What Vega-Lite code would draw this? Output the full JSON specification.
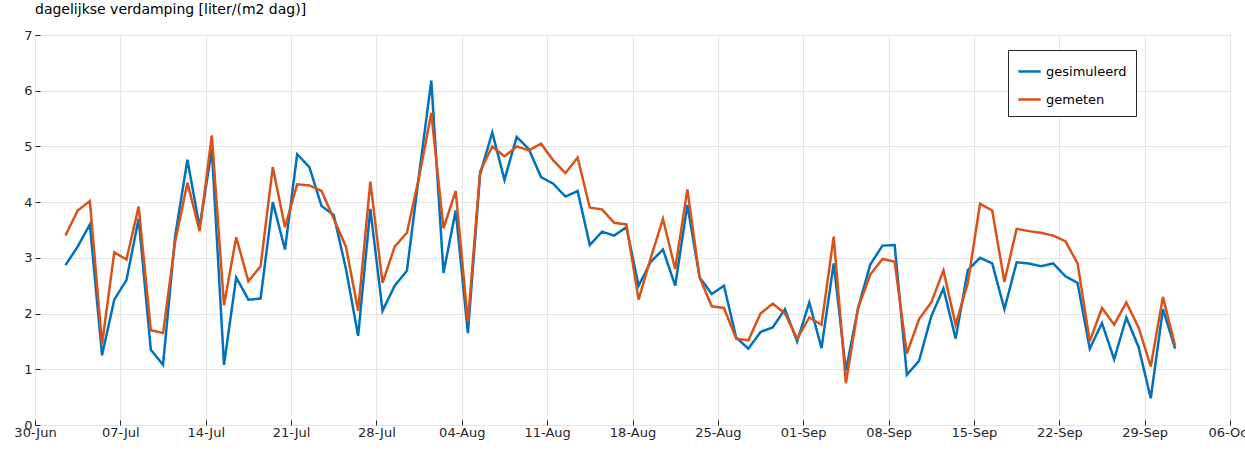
{
"$schema":"https://vega.github.io/schema/vega-lite/v6.json",
"width":1195,"height":390,"autosize":"none",
"padding":{"left":35,"top":35,"right":15,"bottom":28},
"background":"white",
"config":{"font":"DejaVu Sans","view":{"stroke":"#262626","strokeWidth":1}},
"title":{"text":"dagelijkse verdamping [liter/(m2 dag)]","anchor":"start","frame":"group","fontSize":14,"fontWeight":"normal","color":"#000","offset":12},
"data":{"values":[
{"i":0,"sim":2.87,"obs":3.4},{"i":1,"sim":3.2,"obs":3.85},{"i":2,"sim":3.6,"obs":4.02},{"i":3,"sim":1.25,"obs":1.45},{"i":4,"sim":2.25,"obs":3.1},{"i":5,"sim":2.6,"obs":2.97},{"i":6,"sim":3.7,"obs":3.92},{"i":7,"sim":1.35,"obs":1.7},{"i":8,"sim":1.08,"obs":1.65},{"i":9,"sim":3.4,"obs":3.3},
{"i":10,"sim":4.76,"obs":4.35},{"i":11,"sim":3.55,"obs":3.48},{"i":12,"sim":4.95,"obs":5.2},{"i":13,"sim":1.08,"obs":2.15},{"i":14,"sim":2.65,"obs":3.37},{"i":15,"sim":2.25,"obs":2.58},{"i":16,"sim":2.27,"obs":2.85},{"i":17,"sim":4.0,"obs":4.63},{"i":18,"sim":3.15,"obs":3.55},{"i":19,"sim":4.86,"obs":4.32},
{"i":20,"sim":4.63,"obs":4.3},{"i":21,"sim":3.93,"obs":4.2},{"i":22,"sim":3.77,"obs":3.7},{"i":23,"sim":2.8,"obs":3.2},{"i":24,"sim":1.6,"obs":2.05},{"i":25,"sim":3.88,"obs":4.37},{"i":26,"sim":2.05,"obs":2.55},{"i":27,"sim":2.5,"obs":3.2},{"i":28,"sim":2.77,"obs":3.45},{"i":29,"sim":4.5,"obs":4.45},
{"i":30,"sim":6.18,"obs":5.6},{"i":31,"sim":2.73,"obs":3.53},{"i":32,"sim":3.85,"obs":4.2},{"i":33,"sim":1.65,"obs":1.85},{"i":34,"sim":4.5,"obs":4.55},{"i":35,"sim":5.25,"obs":5.0},{"i":36,"sim":4.4,"obs":4.82},{"i":37,"sim":5.17,"obs":5.0},{"i":38,"sim":4.95,"obs":4.93},{"i":39,"sim":4.45,"obs":5.05},
{"i":40,"sim":4.33,"obs":4.75},{"i":41,"sim":4.1,"obs":4.52},{"i":42,"sim":4.2,"obs":4.8},{"i":43,"sim":3.23,"obs":3.9},{"i":44,"sim":3.47,"obs":3.87},{"i":45,"sim":3.4,"obs":3.63},{"i":46,"sim":3.55,"obs":3.6},{"i":47,"sim":2.5,"obs":2.25},{"i":48,"sim":2.93,"obs":3.0},{"i":49,"sim":3.15,"obs":3.7},
{"i":50,"sim":2.5,"obs":2.8},{"i":51,"sim":3.95,"obs":4.23},{"i":52,"sim":2.65,"obs":2.65},{"i":53,"sim":2.35,"obs":2.13},{"i":54,"sim":2.5,"obs":2.1},{"i":55,"sim":1.57,"obs":1.55},{"i":56,"sim":1.37,"obs":1.52},{"i":57,"sim":1.67,"obs":2.0},{"i":58,"sim":1.75,"obs":2.18},{"i":59,"sim":2.08,"obs":2.0},
{"i":60,"sim":1.5,"obs":1.55},{"i":61,"sim":2.2,"obs":1.93},{"i":62,"sim":1.38,"obs":1.8},{"i":63,"sim":2.9,"obs":3.38},{"i":64,"sim":0.98,"obs":0.75},{"i":65,"sim":2.1,"obs":2.1},{"i":66,"sim":2.88,"obs":2.7},{"i":67,"sim":3.22,"obs":2.98},{"i":68,"sim":3.23,"obs":2.93},{"i":69,"sim":0.9,"obs":1.28},
{"i":70,"sim":1.15,"obs":1.9},{"i":71,"sim":1.95,"obs":2.2},{"i":72,"sim":2.45,"obs":2.77},{"i":73,"sim":1.55,"obs":1.8},{"i":74,"sim":2.78,"obs":2.55},{"i":75,"sim":3.0,"obs":3.97},{"i":76,"sim":2.9,"obs":3.85},{"i":77,"sim":2.08,"obs":2.57},{"i":78,"sim":2.92,"obs":3.52},{"i":79,"sim":2.9,"obs":3.48},
{"i":80,"sim":2.85,"obs":3.45},{"i":81,"sim":2.9,"obs":3.4},{"i":82,"sim":2.67,"obs":3.3},{"i":83,"sim":2.55,"obs":2.9},{"i":84,"sim":1.37,"obs":1.5},{"i":85,"sim":1.83,"obs":2.1},{"i":86,"sim":1.18,"obs":1.8},{"i":87,"sim":1.93,"obs":2.2},{"i":88,"sim":1.4,"obs":1.75},{"i":89,"sim":0.48,"obs":1.05},
{"i":90,"sim":2.08,"obs":2.3},{"i":91,"sim":1.37,"obs":1.42}
]},
"transform":[
{"calculate":"datetime(2015,6,2+datum.i,12)","as":"date"},
{"fold":["sim","obs"],"as":["k","v"]},
{"calculate":"datum.k=='sim'?'gesimuleerd':'gemeten'","as":"serie"}
],
"mark":{"type":"line","strokeWidth":2.5,"clip":true},
"encoding":{
"x":{"field":"date","type":"temporal","title":null,
"scale":{"domain":[{"year":2015,"month":6,"date":30},{"year":2015,"month":10,"date":6}]},
"axis":{"values":[{"year":2015,"month":6,"date":30},{"year":2015,"month":7,"date":7},{"year":2015,"month":7,"date":14},{"year":2015,"month":7,"date":21},{"year":2015,"month":7,"date":28},{"year":2015,"month":8,"date":4},{"year":2015,"month":8,"date":11},{"year":2015,"month":8,"date":18},{"year":2015,"month":8,"date":25},{"year":2015,"month":9,"date":1},{"year":2015,"month":9,"date":8},{"year":2015,"month":9,"date":15},{"year":2015,"month":9,"date":22},{"year":2015,"month":9,"date":29},{"year":2015,"month":10,"date":6}],
"format":"%d-%b","labelFontSize":13,"labelColor":"#262626","gridColor":"#e5e5e5","domain":false,"tickColor":"#262626","tickSize":-5,"labelPadding":6,"labelOverlap":false,"labelFlush":false}},
"y":{"field":"v","type":"quantitative","title":null,"scale":{"domain":[0,7],"nice":false},
"axis":{"values":[0,1,2,3,4,5,6,7],"labelFontSize":13,"labelColor":"#262626","gridColor":"#e5e5e5","domain":false,"tickColor":"#262626","tickSize":-5,"labelPadding":8}},
"color":{"field":"serie","type":"nominal","scale":{"domain":["gesimuleerd","gemeten"],"range":["#0072BD","#D95319"]},
"legend":{"title":null,"orient":"none","legendX":973,"legendY":15,"symbolType":"stroke","symbolSize":500,"symbolStrokeWidth":2.5,"labelFontSize":13,"labelColor":"#000","strokeColor":"#262626","fillColor":"white","padding":9,"rowPadding":8,"labelLimit":200,"symbolOffset":0}}
}
}
